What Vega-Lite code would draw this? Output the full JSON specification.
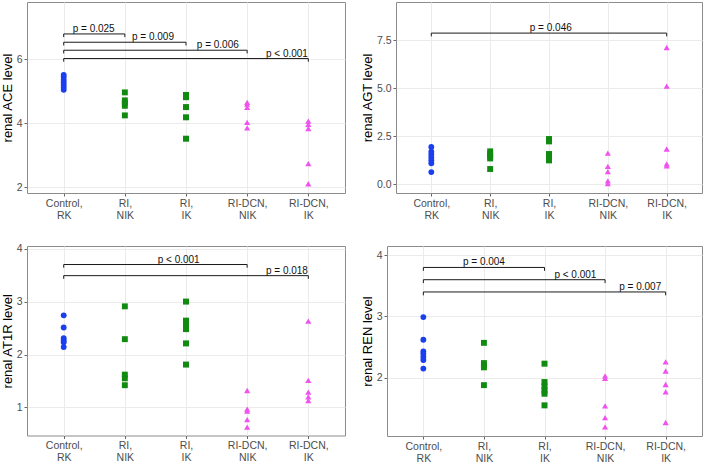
{
  "$schema": "https://vega.github.io/schema/vega-lite/v6.json",
  "background": "white",
  "padding": {"left": 0, "top": 1, "right": 0, "bottom": 0},
  "datasets": {
    "ace": [
      {"group": "Control, RK", "value": 5.05}, {"group": "Control, RK", "value": 5.12}, {"group": "Control, RK", "value": 5.2}, {"group": "Control, RK", "value": 5.28}, {"group": "Control, RK", "value": 5.36}, {"group": "Control, RK", "value": 5.45}, {"group": "Control, RK", "value": 5.52},
      {"group": "RI, NIK", "value": 4.97}, {"group": "RI, NIK", "value": 4.72}, {"group": "RI, NIK", "value": 4.64}, {"group": "RI, NIK", "value": 4.55}, {"group": "RI, NIK", "value": 4.25},
      {"group": "RI, IK", "value": 4.89}, {"group": "RI, IK", "value": 4.82}, {"group": "RI, IK", "value": 4.51}, {"group": "RI, IK", "value": 4.19}, {"group": "RI, IK", "value": 3.52},
      {"group": "RI-DCN, NIK", "value": 4.66}, {"group": "RI-DCN, NIK", "value": 4.6}, {"group": "RI-DCN, NIK", "value": 4.5}, {"group": "RI-DCN, NIK", "value": 4.03}, {"group": "RI-DCN, NIK", "value": 3.86},
      {"group": "RI-DCN, IK", "value": 4.07}, {"group": "RI-DCN, IK", "value": 3.97}, {"group": "RI-DCN, IK", "value": 3.84}, {"group": "RI-DCN, IK", "value": 2.74}, {"group": "RI-DCN, IK", "value": 2.11}
    ],
    "ace_sig": [
      {"from": "Control, RK", "to": "RI, NIK", "h": 6.8, "tip": 6.7, "label": "p = 0.025", "lx": 1.49},
      {"from": "Control, RK", "to": "RI, IK", "h": 6.54, "tip": 6.44, "label": "p = 0.009", "lx": 2.46},
      {"from": "Control, RK", "to": "RI-DCN, NIK", "h": 6.29, "tip": 6.19, "label": "p = 0.006", "lx": 3.52},
      {"from": "Control, RK", "to": "RI-DCN, IK", "h": 6.03, "tip": 5.93, "label": "p < 0.001", "lx": 4.65}
    ],
    "agt": [
      {"group": "Control, RK", "value": 1.95}, {"group": "Control, RK", "value": 1.7}, {"group": "Control, RK", "value": 1.55}, {"group": "Control, RK", "value": 1.4}, {"group": "Control, RK", "value": 1.25}, {"group": "Control, RK", "value": 1.1}, {"group": "Control, RK", "value": 0.64},
      {"group": "RI, NIK", "value": 1.72}, {"group": "RI, NIK", "value": 1.58}, {"group": "RI, NIK", "value": 1.45}, {"group": "RI, NIK", "value": 1.35}, {"group": "RI, NIK", "value": 0.8},
      {"group": "RI, IK", "value": 2.36}, {"group": "RI, IK", "value": 2.24}, {"group": "RI, IK", "value": 1.58}, {"group": "RI, IK", "value": 1.42}, {"group": "RI, IK", "value": 1.25},
      {"group": "RI-DCN, NIK", "value": 1.63}, {"group": "RI-DCN, NIK", "value": 0.94}, {"group": "RI-DCN, NIK", "value": 0.66}, {"group": "RI-DCN, NIK", "value": 0.18}, {"group": "RI-DCN, NIK", "value": 0.04},
      {"group": "RI-DCN, IK", "value": 7.13}, {"group": "RI-DCN, IK", "value": 5.12}, {"group": "RI-DCN, IK", "value": 1.84}, {"group": "RI-DCN, IK", "value": 1.07}, {"group": "RI-DCN, IK", "value": 0.96}
    ],
    "agt_sig": [
      {"from": "Control, RK", "to": "RI-DCN, IK", "h": 7.88, "tip": 7.71, "label": "p = 0.046", "lx": 3.03}
    ],
    "at1r": [
      {"group": "Control, RK", "value": 2.74}, {"group": "Control, RK", "value": 2.51}, {"group": "Control, RK", "value": 2.31}, {"group": "Control, RK", "value": 2.27}, {"group": "Control, RK", "value": 2.23}, {"group": "Control, RK", "value": 2.14},
      {"group": "RI, NIK", "value": 2.91}, {"group": "RI, NIK", "value": 2.29}, {"group": "RI, NIK", "value": 1.62}, {"group": "RI, NIK", "value": 1.55}, {"group": "RI, NIK", "value": 1.42},
      {"group": "RI, IK", "value": 3.0}, {"group": "RI, IK", "value": 2.64}, {"group": "RI, IK", "value": 2.56}, {"group": "RI, IK", "value": 2.48}, {"group": "RI, IK", "value": 2.21}, {"group": "RI, IK", "value": 1.81},
      {"group": "RI-DCN, NIK", "value": 1.32}, {"group": "RI-DCN, NIK", "value": 0.97}, {"group": "RI-DCN, NIK", "value": 0.93}, {"group": "RI-DCN, NIK", "value": 0.77}, {"group": "RI-DCN, NIK", "value": 0.63},
      {"group": "RI-DCN, IK", "value": 2.63}, {"group": "RI-DCN, IK", "value": 1.51}, {"group": "RI-DCN, IK", "value": 1.29}, {"group": "RI-DCN, IK", "value": 1.2}, {"group": "RI-DCN, IK", "value": 1.13}
    ],
    "at1r_sig": [
      {"from": "Control, RK", "to": "RI-DCN, NIK", "h": 3.7, "tip": 3.64, "label": "p < 0.001", "lx": 2.88},
      {"from": "Control, RK", "to": "RI-DCN, IK", "h": 3.49, "tip": 3.43, "label": "p = 0.018", "lx": 4.65}
    ],
    "ren": [
      {"group": "Control, RK", "value": 2.99}, {"group": "Control, RK", "value": 2.62}, {"group": "Control, RK", "value": 2.43}, {"group": "Control, RK", "value": 2.39}, {"group": "Control, RK", "value": 2.34}, {"group": "Control, RK", "value": 2.29}, {"group": "Control, RK", "value": 2.15},
      {"group": "RI, NIK", "value": 2.57}, {"group": "RI, NIK", "value": 2.24}, {"group": "RI, NIK", "value": 2.2}, {"group": "RI, NIK", "value": 2.17}, {"group": "RI, NIK", "value": 1.88},
      {"group": "RI, IK", "value": 2.23}, {"group": "RI, IK", "value": 1.93}, {"group": "RI, IK", "value": 1.86}, {"group": "RI, IK", "value": 1.79}, {"group": "RI, IK", "value": 1.74}, {"group": "RI, IK", "value": 1.55},
      {"group": "RI-DCN, NIK", "value": 2.03}, {"group": "RI-DCN, NIK", "value": 1.99}, {"group": "RI-DCN, NIK", "value": 1.54}, {"group": "RI-DCN, NIK", "value": 1.35}, {"group": "RI-DCN, NIK", "value": 1.2},
      {"group": "RI-DCN, IK", "value": 2.26}, {"group": "RI-DCN, IK", "value": 2.11}, {"group": "RI-DCN, IK", "value": 1.89}, {"group": "RI-DCN, IK", "value": 1.77}, {"group": "RI-DCN, IK", "value": 1.27}
    ],
    "ren_sig": [
      {"from": "Control, RK", "to": "RI, IK", "h": 3.8, "tip": 3.745, "label": "p = 0.004", "lx": 2.0},
      {"from": "Control, RK", "to": "RI-DCN, NIK", "h": 3.6, "tip": 3.545, "label": "p < 0.001", "lx": 3.51},
      {"from": "Control, RK", "to": "RI-DCN, IK", "h": 3.4, "tip": 3.345, "label": "p = 0.007", "lx": 4.58}
    ]
  },
  "vconcat": [
    {
      "spacing": 14,
      "hconcat": [
        {
          "width": 318, "height": 191,
          "resolve": {"axis": {"y": "independent"}},
          "layer": [
            {
              "data": {"name": "ace"},
              "transform": [{"calculate": "indexof(['Control, RK','RI, NIK','RI, IK','RI-DCN, NIK','RI-DCN, IK'], datum.group) + 1", "as": "gi"}],
              "mark": {"type": "point", "filled": true, "opacity": 1},
              "encoding": {
                "x": {"field": "gi", "type": "quantitative", "scale": {"domain": [0.4, 5.6], "nice": false, "zero": false},
                      "axis": {"values": [1, 2, 3, 4, 5], "title": null, "labelExpr": "split(['Control, RK','RI, NIK','RI, IK','RI-DCN, NIK','RI-DCN, IK'][datum.value - 1], ' ')"}},
                "y": {"field": "value", "type": "quantitative", "scale": {"domain": [1.82, 7.8], "nice": false, "zero": false},
                      "axis": {"values": [2, 4, 6], "title": "renal ACE level", "titleFontWeight": "normal"}},
                "color": {"field": "group", "type": "nominal", "legend": null, "scale": {"domain": ["Control, RK", "RI, NIK", "RI, IK", "RI-DCN, NIK", "RI-DCN, IK"], "range": ["#1a3ff0", "#118a11", "#118a11", "#f052ee", "#f052ee"]}},
                "shape": {"field": "group", "type": "nominal", "legend": null, "scale": {"domain": ["Control, RK", "RI, NIK", "RI, IK", "RI-DCN, NIK", "RI-DCN, IK"], "range": ["circle", "square", "square", "triangle-up", "triangle-up"]}},
                "size": {"field": "group", "type": "nominal", "legend": null, "scale": {"domain": ["Control, RK", "RI, NIK", "RI, IK", "RI-DCN, NIK", "RI-DCN, IK"], "range": [34, 38, 38, 46, 46]}}
              }
            },
            {
              "data": {"name": "ace_sig"},
              "transform": [
                {"calculate": "indexof(['Control, RK','RI, NIK','RI, IK','RI-DCN, NIK','RI-DCN, IK'], datum.from) + 1", "as": "a"},
                {"calculate": "indexof(['Control, RK','RI, NIK','RI, IK','RI-DCN, NIK','RI-DCN, IK'], datum.to) + 1", "as": "b"}
              ],
              "layer": [
                {"mark": {"type": "rule", "color": "#1a1a1a", "strokeWidth": 1},
                 "encoding": {"x": {"field": "a", "type": "quantitative"}, "x2": {"field": "b"},
                              "y": {"field": "h", "type": "quantitative", "axis": {"orient": "right", "values": [3, 5, 7], "labels": false, "ticks": false, "domain": false, "title": null, "grid": true, "gridColor": "#f2f2f2", "gridWidth": 0.6}}}},
                {"mark": {"type": "rule", "color": "#1a1a1a", "strokeWidth": 1},
                 "encoding": {"x": {"field": "a", "type": "quantitative"}, "y": {"field": "h", "type": "quantitative", "axis": null}, "y2": {"field": "tip"}}},
                {"mark": {"type": "rule", "color": "#1a1a1a", "strokeWidth": 1},
                 "encoding": {"x": {"field": "b", "type": "quantitative"}, "y": {"field": "h", "type": "quantitative", "axis": null}, "y2": {"field": "tip"}}},
                {"mark": {"type": "text", "fontSize": 10, "baseline": "alphabetic", "dy": -2, "color": "#111"},
                 "encoding": {"x": {"field": "lx", "type": "quantitative"}, "y": {"field": "h", "type": "quantitative", "axis": null}, "text": {"field": "label"}}}
              ]
            }
          ]
        },
        {
          "width": 306, "height": 191,
          "resolve": {"axis": {"y": "independent"}},
          "layer": [
            {
              "data": {"name": "agt"},
              "transform": [{"calculate": "indexof(['Control, RK','RI, NIK','RI, IK','RI-DCN, NIK','RI-DCN, IK'], datum.group) + 1", "as": "gi"}],
              "mark": {"type": "point", "filled": true, "opacity": 1},
              "encoding": {
                "x": {"field": "gi", "type": "quantitative", "scale": {"domain": [0.4, 5.6], "nice": false, "zero": false},
                      "axis": {"values": [1, 2, 3, 4, 5], "title": null, "labelExpr": "split(['Control, RK','RI, NIK','RI, IK','RI-DCN, NIK','RI-DCN, IK'][datum.value - 1], ' ')"}},
                "y": {"field": "value", "type": "quantitative", "scale": {"domain": [-0.45, 9.5], "nice": false, "zero": false},
                      "axis": {"values": [0, 2.5, 5, 7.5], "format": ".1f", "title": "renal AGT level", "titleFontWeight": "normal"}},
                "color": {"field": "group", "type": "nominal", "legend": null, "scale": {"domain": ["Control, RK", "RI, NIK", "RI, IK", "RI-DCN, NIK", "RI-DCN, IK"], "range": ["#1a3ff0", "#118a11", "#118a11", "#f052ee", "#f052ee"]}},
                "shape": {"field": "group", "type": "nominal", "legend": null, "scale": {"domain": ["Control, RK", "RI, NIK", "RI, IK", "RI-DCN, NIK", "RI-DCN, IK"], "range": ["circle", "square", "square", "triangle-up", "triangle-up"]}},
                "size": {"field": "group", "type": "nominal", "legend": null, "scale": {"domain": ["Control, RK", "RI, NIK", "RI, IK", "RI-DCN, NIK", "RI-DCN, IK"], "range": [34, 38, 38, 46, 46]}}
              }
            },
            {
              "data": {"name": "agt_sig"},
              "transform": [
                {"calculate": "indexof(['Control, RK','RI, NIK','RI, IK','RI-DCN, NIK','RI-DCN, IK'], datum.from) + 1", "as": "a"},
                {"calculate": "indexof(['Control, RK','RI, NIK','RI, IK','RI-DCN, NIK','RI-DCN, IK'], datum.to) + 1", "as": "b"}
              ],
              "layer": [
                {"mark": {"type": "rule", "color": "#1a1a1a", "strokeWidth": 1},
                 "encoding": {"x": {"field": "a", "type": "quantitative"}, "x2": {"field": "b"},
                              "y": {"field": "h", "type": "quantitative", "axis": {"orient": "right", "values": [1.25, 3.75, 6.25, 8.75], "labels": false, "ticks": false, "domain": false, "title": null, "grid": true, "gridColor": "#f2f2f2", "gridWidth": 0.6}}}},
                {"mark": {"type": "rule", "color": "#1a1a1a", "strokeWidth": 1},
                 "encoding": {"x": {"field": "a", "type": "quantitative"}, "y": {"field": "h", "type": "quantitative", "axis": null}, "y2": {"field": "tip"}}},
                {"mark": {"type": "rule", "color": "#1a1a1a", "strokeWidth": 1},
                 "encoding": {"x": {"field": "b", "type": "quantitative"}, "y": {"field": "h", "type": "quantitative", "axis": null}, "y2": {"field": "tip"}}},
                {"mark": {"type": "text", "fontSize": 10, "baseline": "alphabetic", "dy": -2, "color": "#111"},
                 "encoding": {"x": {"field": "lx", "type": "quantitative"}, "y": {"field": "h", "type": "quantitative", "axis": null}, "text": {"field": "label"}}}
              ]
            }
          ]
        }
      ]
    },
    {
      "spacing": 14,
      "hconcat": [
        {
          "width": 318, "height": 189.5,
          "resolve": {"axis": {"y": "independent"}},
          "layer": [
            {
              "data": {"name": "at1r"},
              "transform": [{"calculate": "indexof(['Control, RK','RI, NIK','RI, IK','RI-DCN, NIK','RI-DCN, IK'], datum.group) + 1", "as": "gi"}],
              "mark": {"type": "point", "filled": true, "opacity": 1},
              "encoding": {
                "x": {"field": "gi", "type": "quantitative", "scale": {"domain": [0.4, 5.6], "nice": false, "zero": false},
                      "axis": {"values": [1, 2, 3, 4, 5], "title": null, "labelExpr": "split(['Control, RK','RI, NIK','RI, IK','RI-DCN, NIK','RI-DCN, IK'][datum.value - 1], ' ')"}},
                "y": {"field": "value", "type": "quantitative", "scale": {"domain": [0.47, 4.05], "nice": false, "zero": false},
                      "axis": {"values": [1, 2, 3, 4], "title": "renal AT1R level", "titleFontWeight": "normal"}},
                "color": {"field": "group", "type": "nominal", "legend": null, "scale": {"domain": ["Control, RK", "RI, NIK", "RI, IK", "RI-DCN, NIK", "RI-DCN, IK"], "range": ["#1a3ff0", "#118a11", "#118a11", "#f052ee", "#f052ee"]}},
                "shape": {"field": "group", "type": "nominal", "legend": null, "scale": {"domain": ["Control, RK", "RI, NIK", "RI, IK", "RI-DCN, NIK", "RI-DCN, IK"], "range": ["circle", "square", "square", "triangle-up", "triangle-up"]}},
                "size": {"field": "group", "type": "nominal", "legend": null, "scale": {"domain": ["Control, RK", "RI, NIK", "RI, IK", "RI-DCN, NIK", "RI-DCN, IK"], "range": [34, 38, 38, 46, 46]}}
              }
            },
            {
              "data": {"name": "at1r_sig"},
              "transform": [
                {"calculate": "indexof(['Control, RK','RI, NIK','RI, IK','RI-DCN, NIK','RI-DCN, IK'], datum.from) + 1", "as": "a"},
                {"calculate": "indexof(['Control, RK','RI, NIK','RI, IK','RI-DCN, NIK','RI-DCN, IK'], datum.to) + 1", "as": "b"}
              ],
              "layer": [
                {"mark": {"type": "rule", "color": "#1a1a1a", "strokeWidth": 1},
                 "encoding": {"x": {"field": "a", "type": "quantitative"}, "x2": {"field": "b"},
                              "y": {"field": "h", "type": "quantitative", "axis": {"orient": "right", "values": [0.5, 1.5, 2.5, 3.5], "labels": false, "ticks": false, "domain": false, "title": null, "grid": true, "gridColor": "#f2f2f2", "gridWidth": 0.6}}}},
                {"mark": {"type": "rule", "color": "#1a1a1a", "strokeWidth": 1},
                 "encoding": {"x": {"field": "a", "type": "quantitative"}, "y": {"field": "h", "type": "quantitative", "axis": null}, "y2": {"field": "tip"}}},
                {"mark": {"type": "rule", "color": "#1a1a1a", "strokeWidth": 1},
                 "encoding": {"x": {"field": "b", "type": "quantitative"}, "y": {"field": "h", "type": "quantitative", "axis": null}, "y2": {"field": "tip"}}},
                {"mark": {"type": "text", "fontSize": 10, "baseline": "alphabetic", "dy": -2, "color": "#111"},
                 "encoding": {"x": {"field": "lx", "type": "quantitative"}, "y": {"field": "h", "type": "quantitative", "axis": null}, "text": {"field": "label"}}}
              ]
            }
          ]
        },
        {
          "width": 315, "height": 190,
          "resolve": {"axis": {"y": "independent"}},
          "layer": [
            {
              "data": {"name": "ren"},
              "transform": [{"calculate": "indexof(['Control, RK','RI, NIK','RI, IK','RI-DCN, NIK','RI-DCN, IK'], datum.group) + 1", "as": "gi"}],
              "mark": {"type": "point", "filled": true, "opacity": 1},
              "encoding": {
                "x": {"field": "gi", "type": "quantitative", "scale": {"domain": [0.4, 5.6], "nice": false, "zero": false},
                      "axis": {"values": [1, 2, 3, 4, 5], "title": null, "labelExpr": "split(['Control, RK','RI, NIK','RI, IK','RI-DCN, NIK','RI-DCN, IK'][datum.value - 1], ' ')"}},
                "y": {"field": "value", "type": "quantitative", "scale": {"domain": [1.05, 4.15], "nice": false, "zero": false},
                      "axis": {"values": [2, 3, 4], "title": "renal REN level", "titleFontWeight": "normal"}},
                "color": {"field": "group", "type": "nominal", "legend": null, "scale": {"domain": ["Control, RK", "RI, NIK", "RI, IK", "RI-DCN, NIK", "RI-DCN, IK"], "range": ["#1a3ff0", "#118a11", "#118a11", "#f052ee", "#f052ee"]}},
                "shape": {"field": "group", "type": "nominal", "legend": null, "scale": {"domain": ["Control, RK", "RI, NIK", "RI, IK", "RI-DCN, NIK", "RI-DCN, IK"], "range": ["circle", "square", "square", "triangle-up", "triangle-up"]}},
                "size": {"field": "group", "type": "nominal", "legend": null, "scale": {"domain": ["Control, RK", "RI, NIK", "RI, IK", "RI-DCN, NIK", "RI-DCN, IK"], "range": [34, 38, 38, 46, 46]}}
              }
            },
            {
              "data": {"name": "ren_sig"},
              "transform": [
                {"calculate": "indexof(['Control, RK','RI, NIK','RI, IK','RI-DCN, NIK','RI-DCN, IK'], datum.from) + 1", "as": "a"},
                {"calculate": "indexof(['Control, RK','RI, NIK','RI, IK','RI-DCN, NIK','RI-DCN, IK'], datum.to) + 1", "as": "b"}
              ],
              "layer": [
                {"mark": {"type": "rule", "color": "#1a1a1a", "strokeWidth": 1},
                 "encoding": {"x": {"field": "a", "type": "quantitative"}, "x2": {"field": "b"},
                              "y": {"field": "h", "type": "quantitative", "axis": {"orient": "right", "values": [1.5, 2.5, 3.5], "labels": false, "ticks": false, "domain": false, "title": null, "grid": true, "gridColor": "#f2f2f2", "gridWidth": 0.6}}}},
                {"mark": {"type": "rule", "color": "#1a1a1a", "strokeWidth": 1},
                 "encoding": {"x": {"field": "a", "type": "quantitative"}, "y": {"field": "h", "type": "quantitative", "axis": null}, "y2": {"field": "tip"}}},
                {"mark": {"type": "rule", "color": "#1a1a1a", "strokeWidth": 1},
                 "encoding": {"x": {"field": "b", "type": "quantitative"}, "y": {"field": "h", "type": "quantitative", "axis": null}, "y2": {"field": "tip"}}},
                {"mark": {"type": "text", "fontSize": 10, "baseline": "alphabetic", "dy": -2, "color": "#111"},
                 "encoding": {"x": {"field": "lx", "type": "quantitative"}, "y": {"field": "h", "type": "quantitative", "axis": null}, "text": {"field": "label"}}}
              ]
            }
          ]
        }
      ]
    }
  ],
  "spacing": 22,
  "config": {
    "font": "Liberation Sans",
    "view": {"stroke": "#8c8c8c", "strokeWidth": 1},
    "text": {"font": "Liberation Sans"},
    "axis": {
      "labelFont": "Liberation Sans", "labelFontSize": 10.5, "labelColor": "#4d4d4d",
      "titleFont": "Liberation Sans", "titleFontSize": 13, "titleFontWeight": "normal", "titleColor": "#000000", "titlePadding": 2,
      "domain": false, "tickColor": "#666666", "tickSize": 3, "labelPadding": 2,
      "grid": true, "gridColor": "#ebebeb", "gridWidth": 1
    },
    "axisX": {"labelLineHeight": 12, "labelBaseline": "top"}
  }
}
